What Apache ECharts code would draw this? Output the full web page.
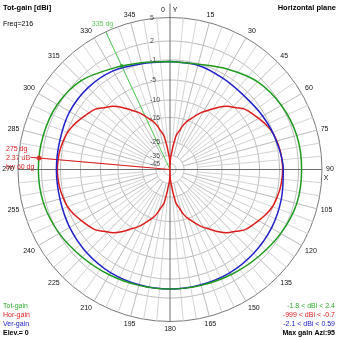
<!DOCTYPE html>
<html><head><meta charset="utf-8">
<script src="https://cdn.jsdelivr.net/npm/echarts@6/dist/echarts.min.js"></script>
<style>html,body{margin:0;padding:0;background:#fff}#c{width:339px;height:339px}</style>
</head><body><div id="c"></div>
<script>
// ---------------- data (dBi) ----------------
const radialTicks = [5, 2, -1, -5, -10, -15, -25, -35, -45];
const radialTickLabels = ['5', '2', '-1', '-5', '-10', '-15', '-25', '-35', '-45'];

const totAngles = [0,15,30,45,60,75,90,105,120,135,150,165,180,195,210,225,240,255,270,285,300,315,330,345,360];
const totGain   = [-1.3,-1.1,0.0,1.3,2.0,2.35,2.4,2.35,1.9,1.3,0.9,0.65,0.59,0.65,0.9,1.3,1.9,2.3,2.4,2.35,2.2,1.55,0.1,-0.85,-1.3];

const verAngles = [0,15,30,45,60,75,90,105,120,135,150,165,180,195,210,225,240,255,270,285,300,315,330,345,360];
const verGain   = [-1.3,-1.3,-1.8,-2.0,-1.5,-0.9,-0.4,-0.1,0.2,0.4,0.55,0.55,0.59,0.55,0.5,0.3,0.0,-0.3,-0.35,-0.3,0.0,0.0,-0.3,-1.0,-1.3];

const horAngles = [
  0,1,2,3,4,5,6,7,8,10,12,14,16,19,22,25,29,34,38,42,47,51,56,60,65,70,75,80,85,90,
  95,100,105,110,115,120,124,129,133,138,142,146,151,155,158,161,164,166,168,170,172,173,174,175,176,177,178,179,180,
  181,182,183,184,185,186,187,188,190,192,194,196,199,202,205,209,214,218,222,227,231,236,240,245,250,255,260,265,270,
  275,280,285,290,295,300,304,309,313,318,322,326,331,335,338,341,344,346,348,350,352,353,354,355,356,357,358,359,360];
const horGain = [
  -999,-45,-41,-38,-36,-34,-32.5,-29,-26.5,-22.3,-21,-19.7,-17.8,-15.6,-14.3,-13,-11.2,-9.3,-7.6,-6.1,-4.8,-3.7,-3.0,-2.45,-1.7,-1.1,-0.85,-0.65,-0.55,-0.5,
  -0.55,-0.65,-0.85,-1.1,-1.7,-2.45,-3.0,-3.7,-4.8,-6.1,-7.6,-9.3,-11.2,-13,-14.3,-15.6,-17.8,-19.7,-21,-22.3,-26.5,-29,-32.5,-34,-36,-38,-41,-45,-999,
  -45,-41,-38,-36,-34,-32.5,-29,-26.5,-22.3,-21,-19.7,-17.8,-15.6,-14.3,-13,-11.2,-9.3,-7.6,-6.1,-4.8,-3.7,-3.0,-2.45,-1.7,-1.1,-0.85,-0.65,-0.55,-0.5,
  -0.55,-0.65,-0.85,-1.1,-1.7,-2.45,-3.0,-3.7,-4.8,-6.1,-7.6,-9.3,-11.2,-13,-14.3,-15.6,-17.8,-19.7,-21,-22.3,-26.5,-29,-32.5,-34,-36,-38,-41,-45,-999];

const totCursor = { angle: 335, gain: -0.25, label: '335 dg' };
const horCursor = { angle: 275, gain: 2.37, lines: ['275 dg', '2.37 dB', 'bw 60 dg'] };

const legendLeft  = ['Tot-gain', 'Hor-gain', 'Ver-gain'];
const legendRight = ['-1.8 < dBi < 2.4', '-999 < dBi < -0.7', '-2.1 < dBi < 0.59'];

// ---------------- chart scale (ARRL-like log grid) ----------------
const SCALE_DB = [5, 2, -1, -5, -10, -15, -25, -35, -45, -60];
const SCALE_R  = [152, 128.5, 109.5, 89.5, 69.5, 52, 27.5, 14, 6, 0];
const RMAX = 152;
function dbToR(db) {
  if (db >= SCALE_DB[0]) return SCALE_R[0];
  for (let i = 0; i < SCALE_DB.length - 1; i++) {
    const a = SCALE_DB[i], b = SCALE_DB[i + 1];
    if (db <= a && db >= b) return SCALE_R[i] + (SCALE_R[i + 1] - SCALE_R[i]) * (a - db) / (a - b);
  }
  return 0;
}
const pts = (angles, vals) => angles.map((a, i) => [dbToR(vals[i]), a]);

const FONT = "'Liberation Sans', Arial, sans-serif";
const GREEN = '#1e9a1e', RED = '#dd1c1c', BLUE = '#2222cc';

// grid elements
const gridElems = [];
radialTicks.slice(1).forEach(db => gridElems.push({ kind: 'circle', db }));
for (let a = 0; a < 360; a += 5) {
  if (a % 90 === 0) continue;
  gridElems.push({ kind: 'spoke', a, major: a % 15 === 0 });
}
gridElems.push({ kind: 'axisV' }, { kind: 'axisH' });

function seg(p1, p2, color) {
  return { type: 'line', shape: { x1: p1[0], y1: p1[1], x2: p2[0], y2: p2[1] }, style: { stroke: color, lineWidth: 1 }, silent: true };
}
function renderGrid(params, api) {
  const e = gridElems[params.dataIndex];
  if (e.kind === 'circle') {
    const r = dbToR(e.db), p = [];
    for (let a = 0; a <= 360; a += 3) p.push(api.coord([r, a]));
    return { type: 'polyline', shape: { points: p }, style: { stroke: '#bdbdbd', lineWidth: 1, fill: null }, silent: true };
  }
  if (e.kind === 'spoke') {
    const r0 = e.major ? dbToR(-35) : dbToR(-25);
    return seg(api.coord([r0, e.a]), api.coord([RMAX, e.a]), e.major ? '#bcbcbc' : '#d4d4d4');
  }
  if (e.kind === 'axisV') return seg(api.coord([RMAX + 14, 0]), api.coord([RMAX, 180]), '#6e6e6e');
  return seg(api.coord([RMAX, 270]), api.coord([RMAX, 90]), '#6e6e6e');
}

const chart = echarts.init(document.getElementById('c'), null, { renderer: 'canvas' });
const txt = (x, y, text, color, align, bold, size) => ({
  type: 'text', x, y, silent: true,
  style: { text, fill: color, align: align || 'left', verticalAlign: 'middle',
    font: (bold ? 'bold ' : '') + (size || 7) + 'px ' + FONT }
});

chart.setOption({
  animation: false,
  backgroundColor: '#fff',
  polar: { center: [170, 169.5], radius: RMAX },
  angleAxis: {
    type: 'value', min: 0, max: 360, interval: 15, startAngle: 90, clockwise: true,
    axisLine: { lineStyle: { color: '#7a7a7a', width: 1 } },
    axisTick: { show: false }, splitLine: { show: false },
    axisLabel: { margin: 4, fontSize: 7, fontFamily: FONT, color: '#111',
      formatter: v => (v === 0 || v === 360) ? '' : String(v) }
  },
  radiusAxis: { type: 'value', min: 0, max: RMAX, axisLine: { show: false }, axisTick: { show: false },
    axisLabel: { show: false }, splitLine: { show: false } },
  series: [
    { type: 'custom', coordinateSystem: 'polar', renderItem: renderGrid, silent: true, z: 1,
      data: gridElems.map(() => [0, 0]) },
    { type: 'line', coordinateSystem: 'polar', symbol: 'none', silent: true, z: 3,
      data: [[0, totCursor.angle], [RMAX, totCursor.angle]], lineStyle: { color: '#55cc55', width: 1 } },
    { type: 'line', coordinateSystem: 'polar', symbol: 'none', silent: true, z: 3,
      data: [[0, horCursor.angle], [140, horCursor.angle]], lineStyle: { color: RED, width: 1 } },
    { type: 'line', coordinateSystem: 'polar', symbol: 'none', smooth: 0.3, silent: true, z: 4,
      data: pts(horAngles, horGain), lineStyle: { color: RED, width: 1.5 } },
    { type: 'line', coordinateSystem: 'polar', symbol: 'none', smooth: 0.3, silent: true, z: 5,
      data: pts(verAngles, verGain), lineStyle: { color: BLUE, width: 1.5 } },
    { type: 'line', coordinateSystem: 'polar', symbol: 'none', smooth: 0.3, silent: true, z: 6,
      data: pts(totAngles, totGain), lineStyle: { color: GREEN, width: 1.5 } },
    { type: 'scatter', coordinateSystem: 'polar', silent: true, z: 7,
      data: [[dbToR(totCursor.gain), totCursor.angle]], symbolSize: 4, itemStyle: { color: GREEN } },
    { type: 'scatter', coordinateSystem: 'polar', silent: true, z: 7,
      data: [[dbToR(horCursor.gain), horCursor.angle]], symbolSize: 5, itemStyle: { color: RED } },
    { type: 'scatter', coordinateSystem: 'polar', silent: true, z: 7, symbolSize: 0,
      data: [[RMAX, totCursor.angle]],
      label: { show: true, formatter: totCursor.label, position: [-14, -8], align: 'left', verticalAlign: 'middle',
        fontSize: 7, fontFamily: FONT, color: '#33bb33' } },
    { type: 'scatter', coordinateSystem: 'polar', silent: true, z: 8, symbolSize: 0,
      data: radialTicks.map(db => [dbToR(db), 0]),
      label: { show: true, formatter: p => radialTickLabels[p.dataIndex], position: [-20, 0.5], align: 'left', verticalAlign: 'middle',
        fontSize: 7, fontFamily: FONT, color: '#222' } }
  ],
  graphic: [
    txt(3, 7.5, 'Tot-gain [dBi]', '#000', 'left', true, 7.5),
    txt(3, 24.5, 'Freq=216', '#000', 'left', false, 7),
    txt(336, 7.5, 'Horizontal plane', '#000', 'right', true, 7.5),
    txt(163, 10, '0', '#111', 'center', false, 7),
    txt(175, 10, 'Y', '#111', 'center', false, 7),
    txt(326, 178, 'X', '#111', 'center', false, 7),
    txt(6, 149, horCursor.lines[0], RED, 'left', false, 7),
    txt(6, 158, horCursor.lines[1], RED, 'left', false, 7),
    txt(6, 166.7, horCursor.lines[2], RED, 'left', false, 7),
    txt(3, 306, legendLeft[0], '#33aa33', 'left', false, 7),
    txt(3, 315.5, legendLeft[1], RED, 'left', false, 7),
    txt(3, 324.3, legendLeft[2], BLUE, 'left', false, 7),
    txt(3, 333.3, 'Elev.= 0', '#000', 'left', true, 7),
    txt(335, 306, legendRight[0], '#33aa33', 'right', false, 7),
    txt(335, 315.5, legendRight[1], RED, 'right', false, 7),
    txt(335, 324.3, legendRight[2], BLUE, 'right', false, 7),
    txt(335, 333.3, 'Max gain Azi:95', '#000', 'right', true, 7)
  ]
});
</script></body></html>
